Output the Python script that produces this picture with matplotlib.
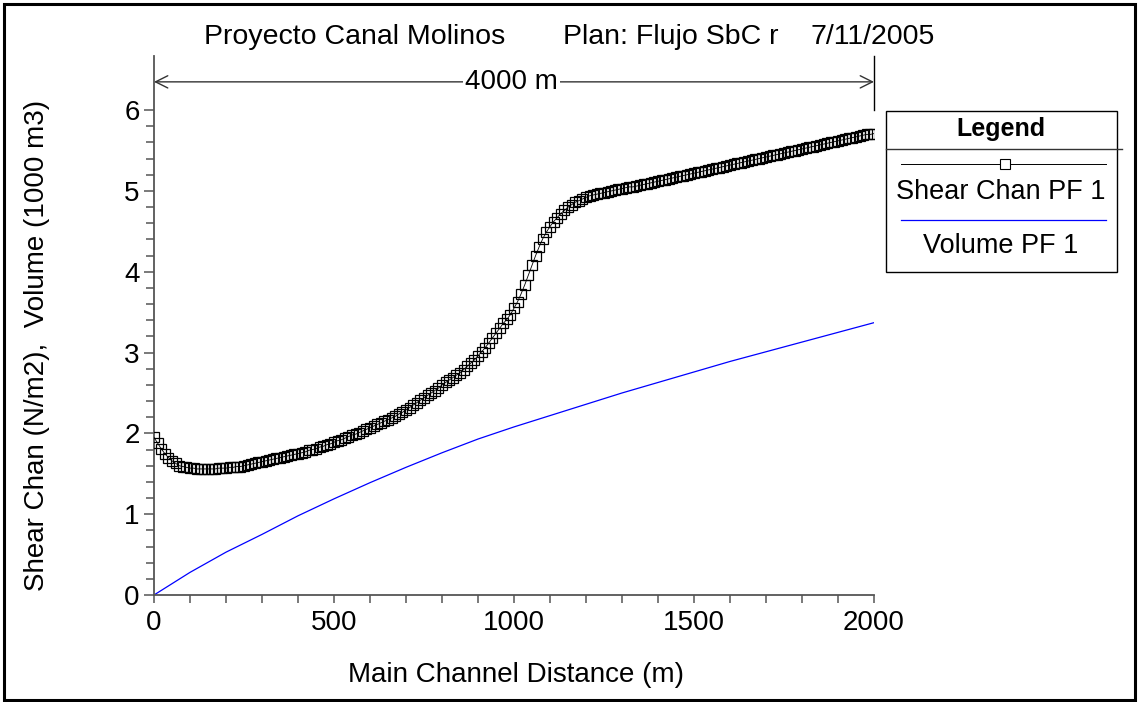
import numpy as np
import matplotlib
matplotlib.use("Agg")
import matplotlib.pyplot as plt
from matplotlib.lines import Line2D
from matplotlib.patches import Rectangle
from matplotlib.ticker import MultipleLocator, FixedLocator

plt.rcParams['font.family'] = ['Liberation Sans', 'DejaVu Sans']

# ---------------- data ----------------
shear_dist = list(range(0, 2001, 10))
shear_vals = [
    1.95, 1.88, 1.81, 1.75, 1.70, 1.66, 1.63, 1.60, 1.59, 1.58,
    1.57, 1.57, 1.56, 1.56, 1.56, 1.56, 1.56, 1.56, 1.57, 1.57,
    1.57, 1.58, 1.58, 1.59, 1.59, 1.60, 1.61, 1.62, 1.63, 1.64,
    1.65, 1.66, 1.67, 1.68, 1.69, 1.70, 1.71, 1.72, 1.73, 1.74,
    1.75, 1.76, 1.77, 1.79, 1.80, 1.81, 1.83, 1.84, 1.86, 1.87,
    1.89, 1.91, 1.92, 1.94, 1.96, 1.98, 1.99, 2.01, 2.03, 2.05,
    2.07, 2.09, 2.11, 2.13, 2.15, 2.17, 2.19, 2.21, 2.24, 2.26,
    2.29, 2.32, 2.35, 2.38, 2.41, 2.44, 2.47, 2.50, 2.53, 2.56,
    2.60, 2.63, 2.66, 2.69, 2.72, 2.75, 2.79, 2.83, 2.87, 2.91,
    2.96, 3.01, 3.06, 3.12, 3.18, 3.24, 3.30, 3.36, 3.41, 3.47,
    3.55, 3.63, 3.73, 3.84, 3.96, 4.08, 4.20, 4.31, 4.41, 4.49,
    4.56, 4.62, 4.67, 4.72, 4.76, 4.80, 4.83, 4.86, 4.88, 4.90,
    4.92, 4.94, 4.95, 4.96, 4.97, 4.98, 4.99, 5.00, 5.01, 5.02,
    5.03, 5.04, 5.05, 5.05, 5.06, 5.07, 5.08, 5.09, 5.10, 5.11,
    5.12, 5.13, 5.14, 5.15, 5.16, 5.17, 5.18, 5.19, 5.20, 5.21,
    5.22, 5.23, 5.24, 5.25, 5.26, 5.27, 5.28, 5.29, 5.30, 5.31,
    5.32, 5.33, 5.34, 5.35, 5.36, 5.37, 5.38, 5.39, 5.40, 5.41,
    5.42, 5.43, 5.44, 5.45, 5.46, 5.47, 5.48, 5.49, 5.50, 5.51,
    5.52, 5.53, 5.54, 5.55, 5.56, 5.57, 5.58, 5.59, 5.60, 5.61,
    5.62, 5.63, 5.64, 5.65, 5.66, 5.67, 5.68, 5.69, 5.70, 5.70,
    5.71,
]

volume_dist = [0, 100, 200, 300, 400, 500, 600, 700, 800, 900, 1000,
               1100, 1200, 1300, 1400, 1500, 1600, 1700, 1800, 1900, 2000]
volume_vals = [0.00, 0.28, 0.53, 0.75, 0.98, 1.19, 1.39, 1.58, 1.76, 1.93, 2.08,
               2.22, 2.36, 2.50, 2.63, 2.76, 2.89, 3.01, 3.13, 3.25, 3.37]

x_ticks = [0, 500, 1000, 1500, 2000]
y_ticks = [0, 1, 2, 3, 4, 5, 6]

title_parts = ["Proyecto Canal Molinos", "Plan: Flujo SbC r", "7/11/2005"]
series_names = ["Shear Chan PF 1", "Volume PF 1"]
x_label = "Main Channel Distance (m)"
y_label = "Shear Chan (N/m2),  Volume (1000 m3)"
dim_label = "4000 m"

# ---------------- figure ----------------
W, H = 1138, 702
fig = plt.figure(figsize=(W / 100, H / 100), dpi=100)

def fx(px):
    return px / W

def fy(py):
    return 1 - py / H

ax = fig.add_axes([fx(154), fy(595), fx(874) - fx(154), fy(56) - fy(595)])
ax.set_xlim(0, 2000)
ax.set_ylim(0, 6.67)

spine_col = '#555555'
for s in ['top', 'right']:
    ax.spines[s].set_visible(False)
for s in ['left', 'bottom']:
    ax.spines[s].set_color(spine_col)
    ax.spines[s].set_linewidth(1.3)

ax.xaxis.set_major_locator(FixedLocator(x_ticks))
ax.xaxis.set_minor_locator(MultipleLocator(100))
ax.yaxis.set_major_locator(FixedLocator(y_ticks))
ax.yaxis.set_minor_locator(FixedLocator(list(np.arange(0, 6.01, 0.2))))
ax.tick_params(axis='x', which='both', direction='out', length=5.8, width=1.1,
               color=spine_col, labelsize=20, pad=5)
ax.tick_params(axis='y', which='major', direction='out', length=7.2, width=1.1,
               color=spine_col, labelsize=20, pad=3)
ax.tick_params(axis='y', which='minor', direction='out', length=5.8, width=1.1,
               color=spine_col)

ax.plot(shear_dist, shear_vals, color='black', lw=0.6, marker='s', ms=7.2,
        mfc='none', mec='black', mew=0.9, zorder=3)
ax.plot(volume_dist, volume_vals, color='#0000ff', lw=0.9, zorder=2)

# dimension line "4000 m"
dim_y = 6.35
ax.annotate('', xy=(0, dim_y), xytext=(2000, dim_y),
            arrowprops=dict(arrowstyle='<->', color='#333333', lw=1.0,
                            shrinkA=0, shrinkB=0, mutation_scale=22),
            annotation_clip=False)
ax.plot([2000, 2000], [6.0, 6.67], color='black', lw=1.0, clip_on=False)
ax.text(994, dim_y, dim_label, ha='center', va='center', fontsize=20,
        bbox=dict(facecolor='white', edgecolor='none', pad=1.5), zorder=5)

# titles and axis labels
fig.text(fx(355), fy(37), title_parts[0], ha='center', va='center', fontsize=20.5)
fig.text(fx(671), fy(37), title_parts[1], ha='center', va='center', fontsize=20.5)
fig.text(fx(873), fy(37), title_parts[2], ha='center', va='center', fontsize=20.5)
fig.text(fx(516), fy(675), x_label, ha='center', va='center', fontsize=20)
fig.text(fx(37), fy(345), y_label, ha='center', va='center', fontsize=20,
         rotation=90)

# legend box (manual)
fig.add_artist(Rectangle((fx(886), fy(272)), fx(1117) - fx(886), fy(111) - fy(272),
                         transform=fig.transFigure, facecolor='white',
                         edgecolor='black', lw=1.0))
fig.text(fx(1001), fy(129), "Legend", ha='center', va='center', fontsize=18,
         fontweight='bold')
fig.add_artist(Line2D([fx(886), fx(1122)], [fy(149), fy(149)],
                      transform=fig.transFigure, color='#333333', lw=1.0))
fig.add_artist(Line2D([fx(901), fx(1106)], [fy(164), fy(164)],
                      transform=fig.transFigure, color='black', lw=0.7))
fig.add_artist(Line2D([fx(1005)], [fy(164)], transform=fig.transFigure,
                      marker='s', ms=6.5, mfc='white', mec='black', mew=0.8))
fig.text(fx(1001), fy(192), series_names[0], ha='center', va='center', fontsize=19.5)
fig.add_artist(Line2D([fx(901), fx(1106)], [fy(220), fy(220)],
                      transform=fig.transFigure, color='#0000ff', lw=0.9))
fig.text(fx(1001), fy(246), series_names[1], ha='center', va='center', fontsize=19.5)

# outer frame
fig.add_artist(Rectangle((fx(4), fy(700)), fx(1135) - fx(4), fy(4) - fy(700),
                         transform=fig.transFigure, facecolor='none',
                         edgecolor='black', lw=2.2))

fig.savefig('out.png', dpi=100)
